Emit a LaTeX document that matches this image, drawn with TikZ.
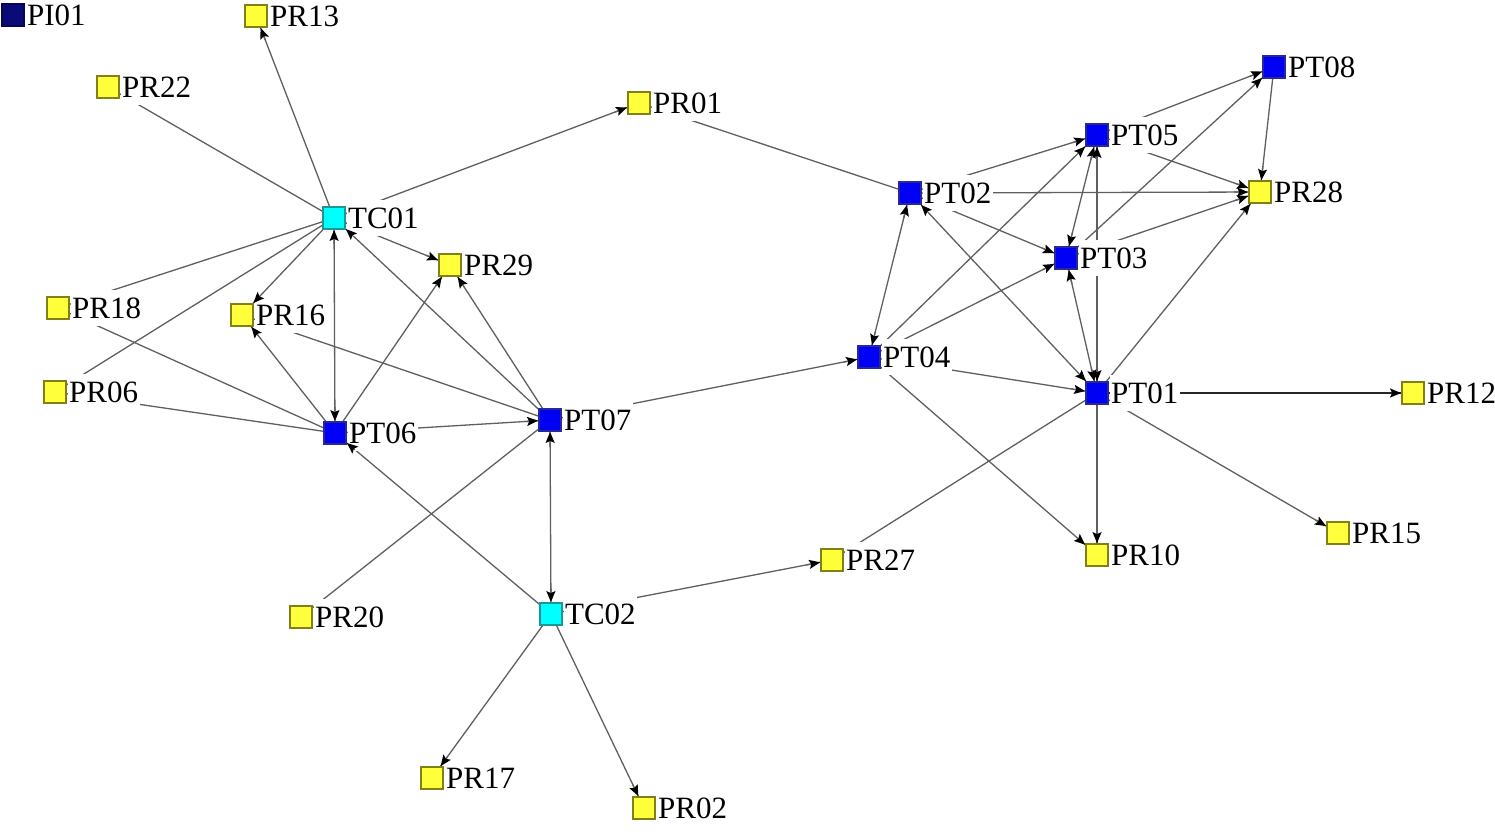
\documentclass[tikz,border=0pt]{standalone}
\usepackage{fontspec}
\setmainfont{Liberation Serif}
\usetikzlibrary{arrows.meta,backgrounds,calc}
\definecolor{yfill}{RGB}{255,255,60}
\definecolor{ydraw}{RGB}{128,128,20}
\definecolor{bfill}{RGB}{0,0,245}
\definecolor{bdraw}{RGB}{40,40,150}
\definecolor{cfill}{RGB}{0,255,255}
\definecolor{cdraw}{RGB}{30,150,150}
\definecolor{nfill}{RGB}{10,10,120}
\definecolor{edgec}{RGB}{95,95,95}
\tikzset{
  sq/.style={rectangle, minimum size=22pt, inner sep=0pt, line width=1.8pt},
  ysq/.style={sq, fill=yfill, draw=ydraw},
  bsq/.style={sq, fill=bfill, draw=bdraw},
  csq/.style={sq, fill=cfill, draw=cdraw},
  nsq/.style={sq, fill=nfill, draw=nfill!70!black},
  lbl/.style={anchor=west, fill=white, inner xsep=1.5pt, inner ysep=8pt, font=\fontsize{31}{32}\selectfont},
  ed/.style={draw=edgec, line width=1.3pt},
  tip/.style={ed, -{Stealth[length=11pt,width=9pt,inset=2pt,color=black]}},
}
\begin{document}
\begin{tikzpicture}[x=1pt,y=-1pt]
\useasboundingbox (0,0) rectangle (1495,838);
% nodes
\node[nsq] (PI01) at (13,15) {};
\node[ysq] (PR13) at (256,16) {};
\node[ysq] (PR22) at (108,87) {};
\node[ysq] (PR01) at (639,103) {};
\node[csq] (TC01) at (334,218) {};
\node[ysq] (PR29) at (450,265) {};
\node[ysq] (PR18) at (58,308) {};
\node[ysq] (PR16) at (242,315) {};
\node[ysq] (PR06) at (55,392) {};
\node[bsq] (PT06) at (335,433) {};
\node[bsq] (PT07) at (550,420) {};
\node[ysq] (PR20) at (301,617) {};
\node[csq] (TC02) at (551,614) {};
\node[ysq] (PR17) at (432,778) {};
\node[ysq] (PR02) at (644,808) {};
\node[ysq] (PR27) at (832,560) {};
\node[bsq] (PT04) at (869,357) {};
\node[bsq] (PT02) at (910,193) {};
\node[bsq] (PT05) at (1097,135) {};
\node[bsq] (PT08) at (1274,67) {};
\node[ysq] (PR28) at (1260,192) {};
\node[bsq] (PT03) at (1066,258) {};
\node[bsq] (PT01) at (1097,393) {};
\node[ysq] (PR12) at (1413,393) {};
\node[ysq] (PR15) at (1338,533) {};
\node[ysq] (PR10) at (1097,555) {};
% edge lines
\begin{pgfonlayer}{background}
\foreach \a/\b in {TC01/PR13,TC01/PR22,TC01/PR01,TC01/PR29,TC01/PT06,TC01/PR18,TC01/PR06,TC01/PR16,
  PT06/PR16,PT07/PR16,PT06/PR18,PT06/PR06,PT06/PT07,PT06/PR29,PT07/PR29,PT07/TC01,PT07/TC02,
  TC02/PT06,PT07/PR20,TC02/PR17,TC02/PR02,TC02/PR27,PT07/PT04,PT02/PR01,PT02/PT04,PT02/PT01,
  PT02/PT05,PT02/PR28,PT02/PT03,PT04/PT05,PT04/PT03,PT04/PT01,PT04/PR10,PT05/PT03,PT05/PT01,
  PT05/PT08,PT05/PR28,PT08/PR28,PT03/PT08,PT03/PR28,PT03/PT01,PT01/PR28,PT01/PR15,PT01/PR10,PT01/PR27}
  \draw[ed] (\a) -- (\b);
\draw[ed, draw=black!85, line width=1.8pt] (PT01) -- (PR12);
\end{pgfonlayer}
% labels
\foreach \n in {PI01,PR13,PR22,PR01,TC01,PR29,PR18,PR16,PR06,PT06,PT07,PR20,TC02,PR17,PR02,PR27,PT04,PT02,PT05,PT08,PR28,PT03,PT01,PR12,PR15,PR10}
  \node[lbl] (\n l) at ([xshift=0.5pt]\n.east) {\n};
% arrow tips
\foreach \a/\b in {TC01/PR13,TC01/PR01,TC01/PR29,TC01/PT06,PT06/TC01,TC01/PR16,PT06/PR16,
  PT06/PT07,PT06/PR29,PT07/PR29,PT07/TC01,PT07/TC02,TC02/PT07,TC02/PT06,TC02/PR17,TC02/PR02,
  TC02/PR27,PT07/PT04,PT02/PT04,PT04/PT02,PT02/PT01,PT01/PT02,PT02/PT05,PT02/PR28,PT02/PT03,
  PT04/PT05,PT04/PT03,PT04/PT01,PT04/PR10,PT05/PT03,PT03/PT05,PT05/PT01,PT01/PT05,PT05/PT08,
  PT05/PR28,PT08/PR28,PT03/PT08,PT03/PR28,PT03/PT01,PT01/PT03,PT01/PR28,PT01/PR15,PT01/PR10}
  \draw[tip] ($(\b)!26pt!(\a)$) -- (\b);
\draw[tip, draw=black!85, line width=1.8pt] ($(PR12)!26pt!(PT01)$) -- (PR12);
\end{tikzpicture}
\end{document}
